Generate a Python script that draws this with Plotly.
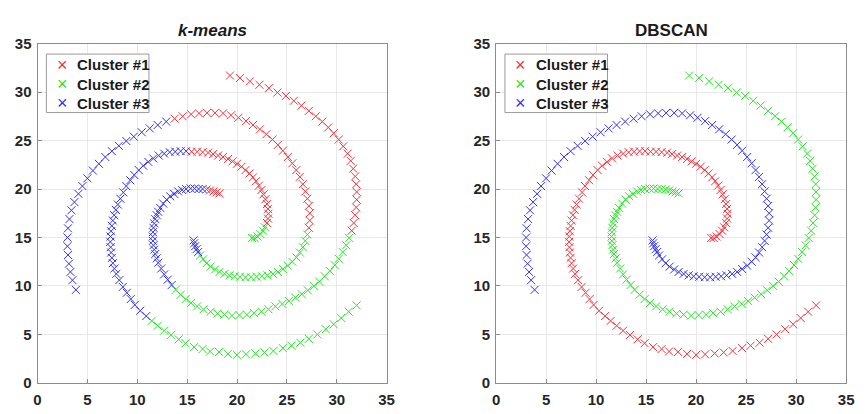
import plotly.graph_objects as go

# ---- data: three spirals ----
s1_x = [32.0, 31.2, 30.45, 29.7, 28.9, 28.05, 27.2, 26.35, 25.45, 24.6, 23.65, 22.75, 21.85, 20.9, 20.0,
        19.1, 18.2, 17.3, 16.55, 15.7, 14.85, 14.15, 13.4, 12.7, 12.05, 11.45,
        10.9, 10.3, 9.75, 9.35, 8.95, 8.55, 8.2, 7.9, 7.7, 7.55, 7.45, 7.38, 7.33, 7.3, 7.32, 7.37, 7.45,
        7.55, 7.68, 7.85, 8.05, 8.3, 8.6, 8.9, 9.3, 9.7, 10.15, 10.6, 11.1, 11.6, 12.15, 12.7, 13.25,
        13.8, 14.35, 14.9,
        15.45, 16.0, 16.55, 17.1, 17.6, 18.1, 18.6, 19.1, 19.55, 20.0, 20.45, 20.85, 21.25, 21.6, 21.9,
        22.2, 22.45, 22.65, 22.85, 23.0, 23.1, 23.15, 23.1, 23.0,
        22.8, 22.6, 22.35, 22.05, 21.75, 21.5]
s1_y = [8.0, 7.35, 6.7, 6.05, 5.55, 5.0, 4.55, 4.15, 3.85, 3.6, 3.3, 3.15, 3.05, 2.95, 2.9,
        3.0, 3.2, 3.25, 3.5, 3.7, 4.1, 4.5, 4.95, 5.4, 5.9, 6.4,
        6.9, 7.45, 8.05, 8.65, 9.3, 9.9, 10.6, 11.25, 11.8, 12.35, 12.9, 13.45, 14.0, 14.55, 15.1, 15.65, 16.2,
        16.75, 17.3, 17.85, 18.4, 19.0, 19.65, 20.3, 20.9, 21.45, 21.95, 22.4, 22.8, 23.15, 23.45, 23.65, 23.8,
        23.85, 23.9, 23.9,
        23.85, 23.85, 23.8, 23.75, 23.6, 23.45, 23.3, 23.1, 22.85, 22.6, 22.3, 21.95, 21.6, 21.2, 20.8,
        20.35, 19.9, 19.45, 18.95, 18.45, 17.95, 17.45, 16.95, 16.5,
        16.05, 15.7, 15.35, 15.1, 14.95, 14.95]
s1_km = "22222222222222222222222222" + "333333333333333333333333333333333333" + "111111111111111111111111" + "222222"

s2_x = [19.3, 20.3, 21.3, 22.25, 23.2, 24.05, 24.9, 25.7, 26.45, 27.2, 27.9, 28.55, 29.15, 29.7, 30.2,
        30.65, 31.1, 31.4, 31.65, 31.85, 31.95, 32.0, 32.0, 31.95, 31.85, 31.7, 31.5,
        31.25, 30.95, 30.6, 30.2, 29.8, 29.3, 28.8, 28.25, 27.7, 27.1, 26.5, 25.85, 25.2, 24.55, 23.85,
        23.15, 22.45, 21.7, 21.0, 20.25, 19.5, 18.75, 18.05, 17.35, 16.65, 16.0, 15.4, 14.85, 14.35, 13.85,
        13.45, 13.05, 12.7, 12.4, 12.1, 11.95, 11.8, 11.7, 11.62, 11.57, 11.55, 11.57, 11.62, 11.7, 11.8,
        11.95, 12.1, 12.3, 12.6, 12.95, 13.3, 13.7, 14.1, 14.5, 14.9, 15.35, 15.75, 16.15,
        16.55, 16.95, 17.3, 17.65, 17.95, 18.25]
s2_y = [31.7, 31.45, 31.1, 30.75, 30.4, 29.95, 29.6, 29.1, 28.6, 28.05, 27.5, 26.95, 26.35, 25.75, 25.1,
        24.4, 23.65, 22.9, 22.1, 21.3, 20.5, 19.7, 18.9, 18.1, 17.3, 16.5, 15.7,
        14.95, 14.2, 13.5, 12.8, 12.15, 11.55, 11.0, 10.45, 10.0, 9.55, 9.15, 8.8, 8.45, 8.15, 7.9,
        7.6, 7.35, 7.2, 7.05, 7.0, 6.95, 7.05, 7.15, 7.35, 7.6, 7.9, 8.25, 8.65, 9.1, 9.6,
        10.1, 10.65, 11.2, 11.8, 12.4, 12.85, 13.3, 13.75, 14.2, 14.65, 15.1, 15.55, 16.0, 16.45, 16.9,
        17.3, 17.65, 18.05, 18.5, 18.9, 19.25, 19.5, 19.75, 19.9, 20.0, 20.05, 20.05, 20.0,
        20.0, 19.95, 19.85, 19.75, 19.65, 19.55]
s2_km = "111111111111111111111111111" + "222222222222222222222222222222" + "33333333333333333333333333333" + "111111"

s3_x = [3.85, 3.5, 3.3, 3.15, 3.05, 3.0, 3.0, 3.05, 3.2, 3.4, 3.7, 4.1, 4.5, 5.0, 5.55, 6.15, 6.8, 7.45,
        8.15, 8.9, 9.65, 10.45, 11.25, 12.05, 12.9,
        13.75, 14.55, 15.4, 16.2, 17.0, 17.8, 18.6, 19.4, 20.15, 20.9, 21.6, 22.3, 22.95, 23.55, 24.1,
        24.6, 25.1, 25.55, 25.95, 26.3, 26.6, 26.85, 27.05, 27.2, 27.3, 27.3, 27.2,
        27.05, 26.85, 26.6, 26.3, 25.95, 25.55, 25.1, 24.6, 24.1, 23.6, 23.05, 22.5, 21.95, 21.4, 20.85,
        20.3, 19.75, 19.25, 18.75, 18.25, 17.8, 17.35, 16.95, 16.6, 16.3,
        16.1, 15.95, 15.8, 15.7, 15.65]
s3_y = [9.6, 10.6, 11.45, 12.3, 13.2, 14.1, 15.0, 15.95, 16.9, 17.8, 18.65, 19.5, 20.3, 21.1, 21.9, 22.6,
        23.3, 23.9, 24.45, 24.95, 25.4, 25.85, 26.25, 26.6, 26.95,
        27.25, 27.5, 27.7, 27.8, 27.85, 27.85, 27.8, 27.6, 27.35, 27.0, 26.6, 26.15, 25.65, 25.1, 24.55,
        23.95, 23.3, 22.65, 21.95, 21.25, 20.5, 19.75, 19.0, 18.25, 17.5, 16.75, 16.0,
        15.3, 14.65, 14.0, 13.45, 12.95, 12.5, 12.1, 11.75, 11.45, 11.25, 11.1, 11.0, 10.95, 10.9, 10.9,
        10.95, 11.0, 11.1, 11.25, 11.45, 11.7, 12.0, 12.35, 12.75, 13.15,
        13.5, 13.8, 14.1, 14.4, 14.7]
s3_km = "3333333333333333333333333" + "111111111111111111111111111" + "2222222222222222222222222" + "33333"

cluster_names = ["Cluster #1", "Cluster #2", "Cluster #3"]
cluster_colors = ["rgb(245,50,60)", "rgb(40,228,40)", "rgb(50,50,245)"]
axis_ticks = [0, 5, 10, 15, 20, 25, 30, 35]
panel_titles = ["<b><i>k-means</i></b>", "<b>DBSCAN</b>"]

# ---- assemble ----
spirals = [(s1_x, s1_y, s1_km, 1), (s2_x, s2_y, s2_km, 2), (s3_x, s3_y, s3_km, 3)]

def collect(method):
    pts = {1: ([], []), 2: ([], []), 3: ([], [])}
    for xs, ys, km, db in spirals:
        for i, (xv, yv) in enumerate(zip(xs, ys)):
            lab = int(km[i]) if method == "km" else db
            pts[lab][0].append(xv)
            pts[lab][1].append(yv)
    return pts

fig = go.Figure()
for method, xa, ya in [("km", "x", "y"), ("db", "x2", "y2")]:
    pts = collect(method)
    for k in (1, 2, 3):
        c = cluster_colors[k - 1]
        fig.add_trace(go.Scatter(
            x=pts[k][0], y=pts[k][1], mode="markers", name=cluster_names[k - 1],
            xaxis=xa, yaxis=ya, showlegend=False,
            marker=dict(symbol="x-thin", size=8, color=c, line=dict(width=1.0, color=c)),
        ))

W, H = 865, 414
FONT = "Liberation Sans, Arial"
tickfont = dict(family=FONT, size=15, color="#262626", weight="bold")
axis_common = dict(range=[0, 35], tickvals=axis_ticks, showgrid=True, gridcolor="#e8e8e8", gridwidth=1,
                   zeroline=False, showline=True, linecolor="#8c8c8c", linewidth=1, mirror=True,
                   ticks="inside", ticklen=4, tickcolor="#8c8c8c", tickfont=tickfont, fixedrange=True)

panels = [(34, 388), (499, 854)]  # pixel extents of the two axes
top_px, bot_px = 36, 390

shapes, annotations = [], []
for (x0, x1), title in zip(panels, panel_titles):
    annotations.append(dict(text=title, x=(x0 + x1) / 2 / W, y=1 - 22 / H, xref="paper", yref="paper",
                            showarrow=False, xanchor="center", yanchor="middle",
                            font=dict(family=FONT, size=17, color="#1a1a1a")))
    # legend box
    lx0, lx1, ly0, ly1 = x0 + 9, x0 + 113, 47, 108
    shapes.append(dict(type="rect", xref="paper", yref="paper", x0=lx0 / W, x1=lx1 / W,
                       y0=1 - ly1 / H, y1=1 - ly0 / H, line=dict(color="#9a9a9a", width=1),
                       fillcolor="white", layer="above"))
    for j, (name, col) in enumerate(zip(cluster_names, cluster_colors)):
        yy = 1 - (58.3 + 20 * j) / H
        annotations.append(dict(text="×", x=(x0 + 25) / W, y=yy, xref="paper", yref="paper",
                                showarrow=False, xanchor="center", yanchor="middle",
                                font=dict(family=FONT, size=18, color=col)))
        annotations.append(dict(text="<b>" + name + "</b>", x=(x0 + 38.5) / W, y=yy, xref="paper", yref="paper",
                                showarrow=False, xanchor="left", yanchor="middle",
                                font=dict(family=FONT, size=15, color="#1a1a1a")))

fig.update_layout(
    width=W, height=H, margin=dict(l=0, r=0, t=0, b=0),
    paper_bgcolor="white", plot_bgcolor="white", showlegend=False,
    xaxis=dict(domain=[panels[0][0] / W, panels[0][1] / W], anchor="y", ticklabelstandoff=3, **axis_common),
    yaxis=dict(domain=[(H - bot_px) / H, (H - top_px) / H], anchor="x", ticklabelstandoff=2, **axis_common),
    xaxis2=dict(domain=[panels[1][0] / W, panels[1][1] / W], anchor="y2", ticklabelstandoff=3, **axis_common),
    yaxis2=dict(domain=[(H - bot_px) / H, (H - top_px) / H], anchor="x2", ticklabelstandoff=2, **axis_common),
    shapes=shapes,
    annotations=annotations,
)

fig.write_html("out.html", config={"displayModeBar": False})
